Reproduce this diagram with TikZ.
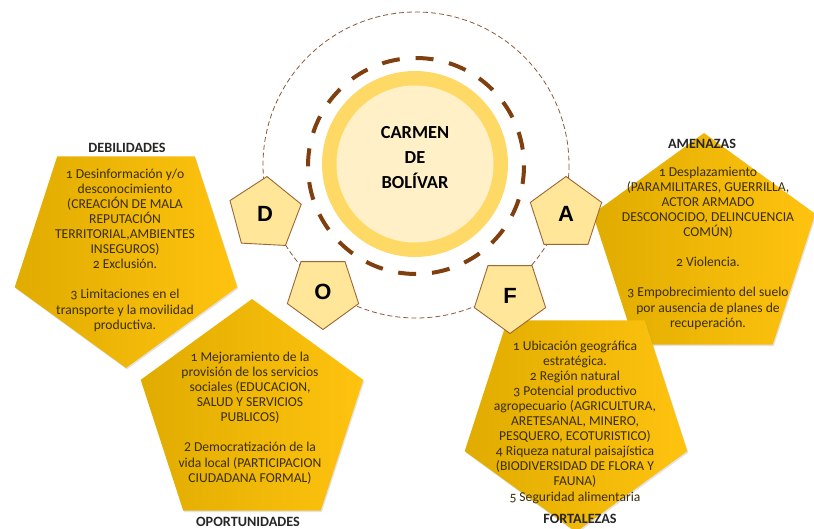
\documentclass[tikz,border=0pt]{standalone}
\usepackage{fontspec}
\setmainfont{Carlito}[Numbers=OldStyle]
\newfontfamily\letterfont{Liberation Sans}
\usetikzlibrary{shapes.geometric,shadows}
\definecolor{goldL}{HTML}{E0AC00}
\definecolor{goldR}{HTML}{FFC30F}
\definecolor{smallfill}{HTML}{FFE699}
\definecolor{smallbrd}{HTML}{9E6634}
\definecolor{darkbrown}{HTML}{7F3F0F}
\definecolor{thinbrown}{HTML}{8C5A3A}
\definecolor{ringcol}{HTML}{FFD966}
\definecolor{innercol}{HTML}{FFF0C8}
\definecolor{txtcol}{HTML}{3A2E05}
\definecolor{labcol}{HTML}{262626}
\tikzset{
  bigpent/.style={regular polygon, regular polygon sides=5, minimum size=234pt,
    inner sep=0pt, outer sep=0pt, left color=goldL, right color=goldR, draw=none,
    drop shadow={opacity=0.22, shadow xshift=1pt, shadow yshift=-1.5pt}},
  smallpent/.style={regular polygon, regular polygon sides=5, minimum size=75pt,
    inner sep=0pt, outer sep=0pt, fill=smallfill, draw=smallbrd, line width=0.9pt,
    font=\letterfont\bfseries\fontsize{22}{24}\selectfont, text=black},
  bodytext/.style={align=center, text=txtcol, font=\fontsize{13.6}{15.1}\selectfont, inner sep=0pt},
  headlabel/.style={text=labcol, font=\bfseries\fontsize{14.2}{16}\selectfont, inner sep=0pt},
}
\begin{document}
\begin{tikzpicture}[x=1pt,y=-1pt]
\useasboundingbox[fill=white] (0,0) rectangle (814,529);

% outer thin dashed circle
\draw[thinbrown, line width=0.8pt, dash pattern=on 5pt off 3pt] (416,165) circle[radius=153];
% thick dashed circle
\draw[darkbrown, line width=4pt, dash pattern=on 18pt off 15.9pt] (416,166) circle[radius=108];
% centre
\node[circle, fill=ringcol, minimum size=186pt, inner sep=0pt] (ring) at (415,164) {};
\node[circle, fill=innercol, minimum size=157pt, inner sep=0pt] (core) at (415,164) {};
\node[align=center, font=\bfseries\fontsize{18.4}{25}\selectfont, text=black] (title) at (415,158) {CARMEN\\DE\\BOLÍVAR};

% large pentagons
\node[bigpent, shape border rotate=180] (Dbig) at (126,251) {};
\node[bigpent] (Abig) at (704,250) {};
\node[bigpent] (Obig) at (252,416) {};
\node[bigpent, shape border rotate=180] (Fbig) at (576,415) {};

% small pentagons
\node[smallpent, shape border rotate=-3] (Ds) at (265,214) {D};
\node[smallpent, shape border rotate=180] (Os) at (323,292) {O};
\node[smallpent] (As) at (566,214) {A};
\node[smallpent, shape border rotate=180] (Fs) at (510,296) {F};

% texts
\node[bodytext] (Dtxt) at (125,250) {1 Desinformación y/o\\desconocimiento\\(CREACIÓN DE MALA\\REPUTACIÓN\\TERRITORIAL,AMBIENTES\\INSEGUROS)\\2 Exclusión.\\[15.1pt]3 Limitaciones en el\\transporte y la movilidad\\productiva.};
\node[bodytext] (Atxt) at (708,248) {1 Desplazamiento\\(PARAMILITARES, GUERRILLA,\\ACTOR ARMADO\\DESCONOCIDO, DELINCUENCIA\\COMÚN)\\[15.1pt]2 Violencia.\\[15.1pt]3 Empobrecimiento del suelo\\por ausencia de planes de\\recuperación.};
\node[bodytext] (Otxt) at (250,418) {1 Mejoramiento de la\\provisión de los servicios\\sociales (EDUCACION,\\SALUD Y SERVICIOS\\PUBLICOS)\\[15.1pt]{\addfontfeature{Numbers=Lining}2} Democratización de la\\vida local (PARTICIPACION\\CIUDADANA FORMAL)};
\node[bodytext] (Ftxt) at (575,422) {1 Ubicación geográfica\\estratégica.\\2 Región natural\\3 Potencial productivo\\agropecuario (AGRICULTURA,\\ARETESANAL, MINERO,\\PESQUERO, ECOTURISTICO)\\4 Riqueza natural paisajística\\(BIODIVERSIDAD DE FLORA Y\\FAUNA)\\5 Seguridad alimentaria};

% labels
\node[headlabel] (Dlab) at (127,148) {DEBILIDADES};
\node[headlabel] (Alab) at (702,144) {AMENAZAS};
\node[headlabel] (Olab) at (248,522) {OPORTUNIDADES};
\node[headlabel] (Flab) at (580,519) {FORTALEZAS};
\end{tikzpicture}
\end{document}
